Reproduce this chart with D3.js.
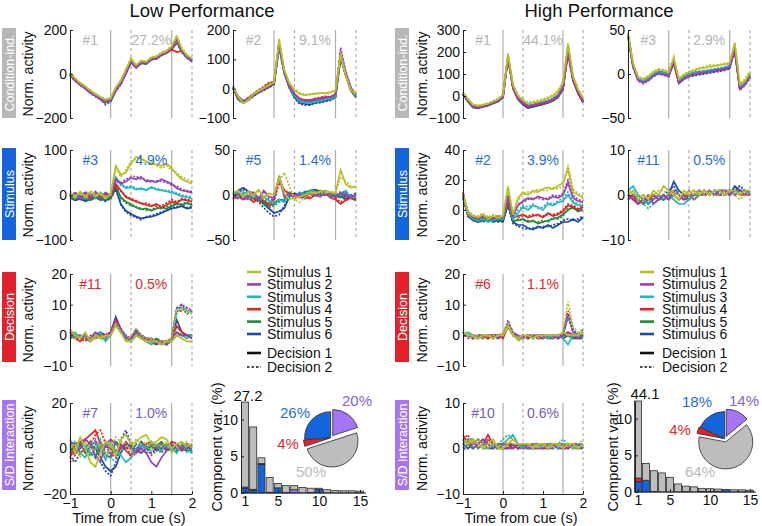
<!DOCTYPE html>
<html lang="en">
<head>
<meta charset="UTF-8">
<title>Low / High Performance components</title>
<script src="https://cdn.jsdelivr.net/npm/d3@7"></script>
<style>
  body { margin: 0; background: #fff; }
  svg text { font-family: "Liberation Sans", Arial, Helvetica, sans-serif; }
</style>
</head>
<body>
<svg id="mainsvg" width="762" height="526"></svg>
<script>
// time axis (s from cue)
const times = [-1,-0.875,-0.75,-0.625,-0.5,-0.375,-0.25,-0.125,0,0.125,0.25,0.375,0.5,0.625,0.75,0.875,1,1.125,1.25,1.375,1.5,1.625,1.75,1.875,2];
const stimNames = ['Stimulus 1','Stimulus 2','Stimulus 3','Stimulus 4','Stimulus 5','Stimulus 6'];
const stimColors = ['#b9bf25','#9a40b6','#22b7bc','#e3241d','#1f8a3c','#1c4aa8'];
const decNames = ['Decision 1','Decision 2'];

// ---- Low performance traces (stim 1..6), decision 1 solid / decision 2 dashed
const lowCond1_dec1 = [
  [5,-20,-40,-55,-75,-90,-105,-115,-110,-60,-30,20,70,40,60,55,75,80,95,105,125,170,115,85,70],
  [-5,-30,-50,-65,-85,-100,-115,-125,-120,-75,-45,5,55,30,50,48,68,72,88,98,118,155,105,78,60],
  [0,-28,-42,-62,-78,-98,-108,-118,-112,-72,-38,8,58,38,58,52,72,78,92,102,122,150,108,76,62],
  [-2,-22,-48,-58,-82,-92,-112,-122,-118,-68,-42,12,62,32,52,50,66,74,86,96,110,100,105,82,66],
  [3,-26,-44,-64,-84,-96,-114,-130,-124,-76,-44,6,56,34,54,46,68,70,88,100,116,150,100,76,64],
  [-4,-24,-46,-60,-80,-94,-108,-126,-120,-74,-40,4,54,30,50,48,66,72,86,98,114,145,102,74,58]];
const lowCond1_dec2 = [
  [2,-18,-42,-58,-72,-92,-102,-118,-108,-62,-28,22,72,42,62,58,78,82,98,108,128,175,118,88,72],
  [-8,-32,-52,-68,-88,-104,-118,-135,-124,-78,-48,2,52,28,48,46,66,70,86,96,116,158,108,80,62],
  [-3,-26,-40,-60,-76,-96,-106,-116,-110,-70,-36,10,60,40,56,54,74,76,94,104,124,152,110,78,64],
  [-6,-24,-50,-60,-84,-94,-114,-124,-120,-70,-44,10,60,30,50,52,68,76,88,98,112,140,107,84,68],
  [4,-28,-46,-66,-86,-98,-116,-140,-126,-78,-46,4,54,32,52,44,66,68,86,98,114,148,98,74,62],
  [-6,-26,-48,-62,-82,-96,-110,-128,-122,-76,-42,2,52,28,48,46,64,70,84,96,112,142,100,72,56]];

const lowCond2_dec1 = [
  [8,-28,-50,-38,-18,-8,2,12,22,170,65,18,-5,-18,-22,-20,-18,-15,-15,-12,-5,115,45,-5,-18],
  [4,-32,-44,-34,-22,-12,-2,8,18,158,58,8,-20,-36,-40,-38,-36,-34,-30,-28,-20,125,55,2,-22],
  [6,-30,-40,-36,-20,-10,0,10,20,150,55,6,-24,-42,-46,-48,-44,-42,-36,-34,-24,118,48,-2,-24],
  [2,-26,-42,-32,-18,-6,4,18,22,155,60,10,-18,-34,-38,-40,-34,-32,-28,-30,-18,112,50,0,-20],
  [5,-34,-46,-36,-22,-10,-2,8,18,148,56,6,-26,-40,-44,-46,-40,-40,-36,-34,-26,108,46,-4,-26],
  [3,-36,-48,-38,-24,-12,-4,6,16,145,54,4,-30,-48,-52,-54,-48,-46,-42,-38,-28,105,44,-6,-28]];
const lowCond2_dec2 = [
  [10,-25,-52,-36,-16,-6,4,16,24,165,62,20,0,-15,-20,-18,-16,-14,-18,-15,-8,125,48,-2,-16],
  [2,-34,-46,-32,-20,-14,-4,6,16,150,56,6,-18,-34,-42,-40,-38,-36,-32,-30,-22,140,60,4,-20],
  [4,-28,-42,-38,-22,-12,-2,12,18,145,52,4,-26,-44,-48,-50,-46,-44,-38,-36,-26,125,52,0,-22],
  [0,-24,-44,-30,-16,-4,8,20,24,150,58,8,-20,-36,-40,-42,-36,-30,-26,-28,-20,118,52,2,-18],
  [6,-36,-48,-38,-24,-12,-4,6,16,142,54,4,-28,-42,-46,-48,-42,-42,-38,-36,-28,112,48,-6,-28],
  [2,-38,-50,-40,-26,-14,-6,4,14,140,52,2,-32,-52,-56,-56,-50,-48,-44,-40,-30,110,46,-8,-30]];

const lowStim3_dec1 = [
  [5,-5,8,-3,6,-2,4,-5,0,65,45,50,70,85,80,75,70,68,65,70,60,45,35,30,25],
  [-5,3,-8,5,-4,8,-3,2,-2,35,25,30,38,35,40,30,32,28,35,30,25,15,10,8,5],
  [2,-8,4,-6,3,-5,6,-3,3,40,25,15,18,12,15,10,18,12,10,8,5,2,-3,-5,-8],
  [-3,4,-6,2,-8,3,-5,6,-4,25,10,-5,-10,-15,-18,-22,-25,-20,-28,-22,-15,-18,-10,-12,-15],
  [0,-10,-4,-8,-12,-6,-10,-4,-8,20,-5,-15,-20,-28,-32,-30,-35,-30,-28,-30,-25,-20,-22,-18,-22],
  [-6,-12,-8,-14,-10,-4,-8,-12,-6,15,-20,-35,-42,-48,-52,-50,-48,-45,-40,-35,-30,-28,-25,-30,-28]];
const lowStim3_dec2 = [
  [8,-2,5,-6,10,2,0,-8,3,60,40,55,75,80,85,70,75,65,60,65,55,50,40,35,30],
  [-2,6,-5,8,-2,5,-6,4,0,30,28,35,40,42,35,35,28,32,30,28,22,20,12,10,8],
  [4,-5,6,-3,5,-8,3,-6,5,35,20,18,20,15,12,14,15,15,12,10,8,5,0,-2,-5],
  [-5,6,-4,4,-6,5,-8,3,-2,20,8,-2,-8,-12,-20,-18,-22,-25,-24,-18,-10,-15,-8,-10,-12],
  [2,-8,-6,-10,-8,-4,-12,-6,-5,18,-8,-18,-24,-26,-30,-34,-32,-28,-30,-26,-22,-18,-20,-16,-20],
  [-4,-10,-10,-12,-8,-6,-10,-14,-8,12,-22,-38,-45,-50,-55,-48,-46,-42,-38,-32,-28,-26,-22,-28,-25]];

const lowStim5_dec1 = [
  [2,5,-2,4,0,6,-3,2,0,20,2,-5,-3,-2,0,3,2,4,5,3,2,28,12,8,10],
  [-3,2,-5,-2,3,-4,5,-2,-3,20,-2,2,-4,0,-2,2,-1,1,0,2,-3,2,-1,-2,0],
  [0,-2,3,-4,2,-3,-2,-6,-8,-5,-8,2,-2,3,0,5,4,-2,3,-1,2,0,5,-3,-2],
  [-4,-2,-5,-3,-8,-4,-6,-10,-5,18,5,2,0,-3,-2,-4,0,-2,2,-3,-5,-10,-6,-3,-5],
  [3,-3,0,-2,-4,-6,-8,-12,-10,-5,-6,3,0,-2,4,2,0,5,3,-2,0,-3,2,-4,-6],
  [0,5,8,4,2,-5,-10,-15,-20,-18,-15,-2,2,0,3,5,6,4,2,0,2,-2,-4,-2,0]];
const lowStim5_dec2 = [
  [4,3,0,2,-2,4,-1,0,2,15,25,10,-5,-8,-3,0,2,3,2,4,3,20,15,10,8],
  [-5,4,-3,0,2,-6,3,-4,-5,22,0,0,-2,2,-4,0,1,-1,2,0,-2,4,2,-2,-1],
  [2,0,5,-2,0,-5,-4,-8,-10,-8,-6,0,-4,1,2,3,2,0,1,1,0,2,3,-1,-4],
  [-2,-4,-3,-5,-6,-2,-8,-12,-8,14,6,0,-2,-1,-4,-2,2,0,0,-1,-3,-8,-4,-2,-6],
  [1,-1,2,-4,-2,-8,-10,-14,-12,-8,-4,1,-2,0,2,4,2,3,1,0,-2,-2,0,-2,-4],
  [2,3,6,2,0,-8,-14,-20,-24,-22,-12,0,0,2,1,3,4,2,0,2,0,0,-2,0,2]];

const lowDec11_dec1 = [
  [2,0,-1,1,-2,0,-1,0,0,3,1,-2,-2,0,-1,-2,-2,-2,-3,-2,-2,0,-1,-2,-2],
  [1,-1,0,-1,-1,1,0,-1,1,4,2,-1,-1,1,0,-1,-1,-2,-2,-3,-1,1,0,0,-1],
  [0,1,-1,0,-2,0,1,-2,0,4,2,0,-2,1,-1,-2,-3,-2,-2,-3,-2,0,0,-1,0],
  [1,-1,-2,0,-1,-1,0,0,1,5,2,-1,-1,1,0,-1,-2,-2,-3,-2,-1,3,1,0,-1],
  [-1,0,0,-1,-1,0,-1,-1,0,4,1,-1,-2,0,-1,-1,-2,-1,-2,-2,-1,1,0,0,0],
  [0,0,-1,-1,-2,0,1,0,1,6,2,-1,-1,2,0,-1,-2,-3,-2,-3,-1,5,1,0,0]];
const lowDec11_dec2 = [
  [1,-1,0,-1,-1,-1,0,-1,0,4,1,-2,0,2,0,-1,-1,-2,-2,-2,-1,8,9,8,7],
  [2,0,-1,0,-2,0,-1,0,1,5,2,-1,-1,1,-1,-2,-2,-3,-2,-3,-1,9,10,9,8],
  [0,-1,0,-1,-1,1,0,-1,0,4,1,-1,-2,0,0,-1,-2,-2,-3,-2,-1,7,9,8,8],
  [1,0,-1,-2,0,-1,0,0,1,5,2,0,-1,1,-1,-1,-2,-2,-2,-2,-1,8,8,9,8],
  [0,-1,-1,0,-1,0,-1,-1,0,4,1,-1,-2,1,0,-1,-2,-2,-2,-3,-1,9,9,7,8],
  [-1,0,0,-1,-1,0,1,-1,1,5,1,-1,-1,1,-1,-2,-2,-3,-2,-3,-1,8,10,8,7]];

const lowInt7_dec1 = [
  [2,-2,5,0,-6,-8,-2,3,2,-3,4,6,2,3,5,6,2,3,5,4,0,2,3,1,2],
  [-3,-2,0,4,2,-3,-6,2,4,2,0,3,0,-2,0,-2,-6,-8,-4,-1,2,0,1,2,0],
  [2,0,-2,-4,1,3,0,-5,2,-1,-3,-6,-4,0,2,0,3,1,-1,2,0,-2,2,0,-2],
  [-4,2,3,4,6,8,2,1,0,-2,2,-1,-3,0,1,2,3,0,2,-1,3,2,-1,2,1],
  [3,2,-2,0,3,-4,2,-3,-4,3,1,0,2,-1,-2,0,2,1,3,0,-1,2,0,-1,0],
  [0,-2,2,-2,1,0,-4,-8,-10,-8,-2,2,1,-1,3,0,1,-1,0,2,1,-1,0,1,-1]];
const lowInt7_dec2 = [
  [0,2,-4,3,-1,0,2,-3,0,5,3,2,-1,4,2,3,0,2,1,3,-2,0,2,3,0],
  [4,-1,2,-2,0,4,-2,3,-4,-1,2,0,3,1,-2,0,-3,-1,2,0,1,2,-1,0,2],
  [-2,3,0,2,-3,0,4,-2,-4,-6,-1,0,2,-2,1,0,-1,2,0,1,-1,0,2,-2,0],
  [-6,-3,0,4,2,6,8,2,-2,-4,0,2,-4,-2,1,0,2,1,-1,2,0,1,2,-1,2],
  [1,-2,3,-1,-3,2,-2,0,3,-2,0,3,-1,2,0,-2,1,0,-2,1,2,-1,1,0,-2],
  [-4,-6,-2,0,-2,-4,-6,-10,-12,-6,4,8,2,-1,0,1,-2,0,1,-1,0,2,-1,0,1]];

// ---- High performance traces
const highCond1_dec1 = [
  [15,-15,-40,-45,-40,-35,-25,-15,5,190,50,0,-20,-35,-30,-25,-20,-10,0,20,60,235,90,30,-10],
  [10,-22,-48,-52,-46,-42,-32,-22,-2,178,38,-12,-32,-46,-42,-36,-32,-26,-16,0,38,200,78,18,-22],
  [8,-18,-44,-50,-44,-38,-28,-20,0,182,42,-8,-28,-44,-40,-34,-28,-22,-12,5,45,225,82,22,-20],
  [6,-20,-46,-54,-48,-40,-30,-24,-4,175,36,-14,-34,-50,-44,-38,-34,-28,-18,-2,34,190,72,14,-28],
  [9,-24,-50,-52,-48,-42,-34,-22,-2,176,38,-12,-36,-50,-46,-40,-34,-30,-20,-4,32,215,76,16,-26],
  [7,-26,-52,-56,-50,-44,-34,-26,-6,172,34,-16,-40,-55,-50,-44,-38,-32,-22,-6,30,205,70,12,-30]];
const highCond1_dec2 = [
  [18,-12,-38,-42,-38,-32,-22,-12,8,195,55,5,-15,-30,-25,-20,-15,-5,5,25,70,240,95,35,-5],
  [12,-20,-46,-50,-44,-40,-30,-20,0,182,40,-10,-30,-44,-40,-34,-30,-24,-14,2,40,210,80,20,-20],
  [10,-16,-42,-48,-42,-36,-26,-18,2,185,44,-6,-26,-42,-38,-32,-26,-20,-10,8,48,230,85,24,-18],
  [8,-18,-44,-52,-46,-38,-28,-22,-2,178,38,-12,-32,-48,-42,-36,-32,-26,-16,0,36,195,74,16,-26],
  [10,-22,-48,-50,-46,-40,-32,-20,0,178,40,-10,-34,-48,-44,-38,-32,-28,-18,-2,34,218,78,18,-24],
  [8,-24,-50,-54,-48,-42,-32,-24,-4,175,36,-14,-38,-52,-48,-42,-36,-30,-20,-4,32,208,72,14,-28]];

const highCond3_dec1 = [
  [46,12,-4,-6,-3,2,5,4,2,18,-6,-1,2,4,6,7,8,9,10,11,12,35,-12,-8,2],
  [44,8,-7,-10,-7,-2,1,0,-2,13,-10,-5,-2,0,1,2,3,4,5,6,8,28,-17,-12,-3],
  [45,10,-5,-9,-6,0,2,1,-1,14,-9,-4,-1,1,2,3,4,5,6,7,9,30,-15,-10,-1],
  [44,9,-6,-9,-6,-1,2,1,-1,14,-9,-4,-1,1,2,2,3,4,5,6,8,27,-16,-11,-2],
  [45,10,-5,-8,-5,0,3,2,0,15,-8,-3,0,1,2,3,4,5,6,7,9,29,-15,-10,-1],
  [44,9,-6,-9,-6,-1,1,0,-2,13,-10,-5,-2,-1,0,1,2,3,4,5,7,27,-17,-12,-3]];
const highCond3_dec2 = [
  [47,13,-3,-5,-2,3,6,5,3,20,-5,0,3,5,7,8,10,10,11,12,13,36,-10,-6,3],
  [43,7,-8,-11,-8,-3,0,-1,-3,12,-11,-6,-3,-1,0,1,2,3,4,5,7,26,-18,-13,-4],
  [46,11,-4,-8,-5,1,3,2,0,16,-8,-3,0,2,3,4,5,6,7,8,10,31,-14,-9,0],
  [45,10,-5,-8,-5,0,3,2,0,15,-8,-3,0,2,3,3,4,5,6,7,9,28,-15,-10,-1],
  [44,9,-6,-9,-6,-1,2,1,-1,14,-9,-4,-1,0,1,2,3,4,5,6,8,28,-16,-11,-2],
  [43,8,-7,-10,-7,-2,0,-1,-3,12,-11,-6,-3,-2,-1,0,1,2,3,4,6,26,-18,-13,-4]];

const highStim2_dec1 = [
  [10,-2,-4,-5,-3,-6,-4,-5,-4,15,-3,8,12,10,13,12,14,15,14,16,18,27,12,10,8],
  [10,-1,-5,-6,-4,-5,-6,-4,-5,8,-4,3,6,8,7,9,8,7,9,8,10,18,8,6,5],
  [9,-3,-6,-7,-6,-8,-7,-5,-6,10,-6,-2,2,0,3,2,0,4,3,5,6,10,5,3,3],
  [12,-4,-5,-7,-5,-6,-5,-6,-4,6,-5,-4,-3,-5,-4,-3,-5,-2,-4,-3,-1,3,2,0,2],
  [8,-3,-6,-8,-6,-7,-6,-7,-6,5,-7,-7,-6,-8,-7,-9,-8,-7,-6,-5,-3,0,2,-1,0],
  [9,-4,-7,-8,-7,-6,-8,-7,-8,4,-8,-10,-10,-12,-13,-11,-12,-10,-12,-10,-8,-8,-6,-8,-5]];
const highStim2_dec2 = [
  [11,-1,-3,-4,-2,-5,-3,-4,-3,16,-2,6,10,12,11,14,13,13,15,14,16,30,14,11,9],
  [9,-2,-4,-5,-5,-4,-5,-5,-4,9,-3,4,5,7,8,8,7,8,10,9,11,20,10,7,6],
  [10,-2,-5,-6,-5,-7,-6,-6,-5,9,-5,0,3,2,4,1,2,5,4,6,8,12,6,4,4],
  [11,-3,-4,-6,-6,-5,-6,-5,-5,5,-4,-5,-4,-4,-3,-4,-4,-3,-3,-2,0,4,3,1,3],
  [9,-4,-5,-7,-7,-6,-7,-6,-7,4,-8,-6,-7,-7,-8,-8,-7,-8,-5,-6,-4,1,1,0,1],
  [8,-5,-6,-7,-8,-7,-7,-8,-7,3,-9,-11,-12,-13,-12,-12,-11,-11,-10,-9,-7,-6,-7,-6,-4]];

const highStim11_dec1 = [
  [0,1,-1,0,-1,1,0,2,1,0,-1,1,0,1,0,1,0,1,1,0,1,1,0,1,1],
  [-1,0,-2,-1,0,-2,-1,0,-1,1,0,-1,0,0,1,0,1,0,1,1,0,1,1,0,0],
  [1,2,0,-1,-2,-1,0,-1,0,-1,-2,-2,-1,0,0,1,0,1,0,1,1,0,1,1,0],
  [0,-1,-2,-1,-1,0,-1,0,-1,0,-1,0,0,-1,0,0,1,0,0,1,0,1,0,0,1],
  [-1,0,-1,-2,-1,0,-1,-1,0,1,0,-1,0,0,0,1,0,1,1,0,1,0,1,0,1],
  [0,-1,0,-1,-2,-1,0,-1,0,3,1,0,-1,0,1,0,1,0,1,1,0,2,1,1,0]];
const highStim11_dec2 = [
  [1,0,0,-1,0,0,1,1,0,1,0,0,1,0,1,0,1,0,0,1,1,0,-1,0,1],
  [0,-1,-1,0,-1,-1,0,-1,0,0,-1,0,1,0,0,1,0,1,0,1,1,0,1,1,0],
  [0,1,-1,-2,-3,-2,-1,-1,-1,0,-1,-1,0,-1,0,0,1,0,1,0,0,1,0,1,0],
  [1,0,-1,-2,0,-1,0,-1,0,1,0,-1,-1,0,1,0,0,1,0,0,1,0,1,0,1],
  [0,-1,0,-1,-2,0,-1,0,-1,0,1,0,-1,0,0,0,1,0,1,1,0,1,0,1,0],
  [-1,0,-1,-2,-1,0,-1,0,1,2,0,-1,0,1,0,1,0,1,0,0,1,1,2,1,0]];

const highDec6_dec1 = [
  [1,0,0,-1,0,0,-1,0,0,3,0,-1,0,0,-1,0,0,0,0,0,1,0,0,0,1],
  [1,0,-1,0,-1,0,0,-1,0,4,1,0,-1,0,0,-1,0,0,0,-1,0,1,0,-1,0],
  [0,1,0,-1,0,0,-1,0,0,3,0,-1,-1,0,-1,0,0,-1,0,0,-1,-3,0,0,-1],
  [1,0,-1,0,0,-1,0,0,-1,3,1,-1,0,-1,0,-1,-1,0,-1,0,0,1,0,-1,0],
  [0,0,-1,0,-1,0,0,-1,0,3,0,-1,-1,0,-1,0,0,-1,0,-1,0,0,-1,0,0],
  [1,0,0,-1,0,-1,0,0,0,3,0,-1,0,-1,0,-1,0,-1,-1,0,-1,0,-1,-1,-1]];
const highDec6_dec2 = [
  [2,0,-1,0,-1,0,0,0,1,4,1,-2,-1,0,0,-1,0,0,0,0,1,11,3,1,2],
  [1,-1,0,0,-1,0,-1,0,0,5,1,-1,0,-1,0,0,-1,0,0,-1,0,7,2,0,1],
  [1,0,-1,-1,0,0,0,-1,0,3,0,-1,-1,0,0,0,-1,0,-1,0,0,6,2,0,1],
  [0,0,0,-1,0,-1,0,0,0,3,0,-1,0,0,-1,0,0,-1,0,0,0,8,1,0,1],
  [1,0,-1,0,0,0,-1,0,0,4,1,-1,-1,0,0,-1,0,0,0,0,1,7,2,0,2],
  [0,0,-1,0,-1,0,0,-1,0,3,0,-1,0,-1,0,0,-1,0,0,-1,0,6,1,0,0]];

const highInt10_dec1 = [
  [2,1,2,1,0,1,2,0,0,1,2,1,1,1,0,1,1,0,1,1,0,1,1,0,1],
  [1,2,0,1,2,1,0,1,1,0,0,1,1,0,1,0,0,1,0,1,1,0,1,1,0],
  [1,2,2,1,0,0,1,0,1,2,3,1,0,1,0,1,0,1,1,0,1,1,0,1,1],
  [3,1,1,2,1,3,1,0,0,1,0,1,0,0,1,1,0,0,1,1,0,1,0,1,1],
  [2,1,0,1,2,1,0,1,0,1,1,0,1,0,0,1,1,0,0,1,1,0,1,0,0],
  [1,0,1,2,1,0,0,1,0,0,1,0,1,0,0,0,1,0,1,0,0,1,0,1,0]];
const highInt10_dec2 = [
  [1,2,1,2,1,0,1,1,0,2,1,1,1,1,1,0,1,1,0,1,1,1,0,1,2],
  [2,1,2,0,1,2,1,0,0,1,1,0,0,1,0,1,1,0,1,0,0,1,1,0,1],
  [0,1,1,2,1,1,0,1,2,3,2,1,0,0,1,1,0,1,0,1,2,1,1,0,1],
  [2,3,1,1,0,2,1,1,0,0,1,0,1,1,0,0,1,1,0,1,0,0,1,1,0],
  [1,1,2,0,1,0,1,0,1,0,0,1,0,1,1,0,0,1,1,0,1,1,0,0,1],
  [0,1,0,1,2,1,0,0,1,1,0,1,0,1,0,1,0,0,1,1,0,0,1,0,1]];

// ---- component variance bars (components 1..15), split by marginalization
const components = d3.range(1, 16);
const lowBarStim = [0.6,0.4,3.9,0.1,0.7,0.05,0,0,0,0.5,0,0,0,0,0];
const lowBarDec  = [0.2,0.1,0.1,0,0,0,0,0,0.05,0,0,0,0,0,0];
const lowBarInt  = [0,0,0,0,0,0,0.45,0,0,0,0,0,0,0,0];
const lowBarCond = [26.4,8.5,0.8,2.0,0.6,0.95,0.55,0.75,0.6,0.15,0.45,0.35,0.3,0.3,0.25];
const highBarStim = [1.4,1.6,0,0,0,0,0,0,0.1,0.05,0,0.35,0,0,0];
const highBarDec  = [0.5,0,0.05,0,0,0,0,0,0,0,0,0,0,0,0];
const highBarInt  = [0,0,0,0,0,0,0.05,0,0,0,0.1,0,0,0,0];
const highBarCond = [42.2,2.3,2.85,2.6,2.0,1.1,0.75,0.7,0.4,0.4,0.3,0,0.3,0.3,0.25];
const lowTotal = '27.2', highTotal = '44.1';

// pie: interaction, condition-ind., decision, stimulus
const pieNames = ['S/D', 'Condition-ind.', 'Decision', 'Stimulus'];
const lowPie = [20, 50, 4, 26];
const highPie = [14, 64, 4, 18];

const rowNames = ['Condition-ind.', 'Stimulus', 'Decision', 'S/D Interaction'];

//Layout
const mainsvg = d3.select('#mainsvg');
const rowY = [[30, 118], [150, 240], [274, 366], [403, 494]];
const rowBox = [[28, 118], [148, 240], [272, 362], [400, 490]];
const boxFill = ['#b7b7b7', '#1465dc', '#e2222b', '#a575f4'];
const textCol = ['#b3b3b3', '#1f6fd6', '#e02a2a', '#7a5cb8'];
const groups = [
    {col: [[70, 192], [233, 356]], box: 2, ylab: 28, title: 'Low Performance', tx: 202},
    {col: [[463, 583], [628, 750]], box: 395, ylab: 422, title: 'High Performance', tx: 599}
];

const panels = [
    {dec1: lowCond1_dec1, dec2: lowCond1_dec2, g: 0, c: 0, r: 0, dom: [-200, 200], ticks: [-200, 0, 200], num: '#1', pct: '27.2%'},
    {dec1: lowCond2_dec1, dec2: lowCond2_dec2, g: 0, c: 1, r: 0, dom: [-100, 200], ticks: [-100, 0, 100, 200], num: '#2', pct: '9.1%'},
    {dec1: lowStim3_dec1, dec2: lowStim3_dec2, g: 0, c: 0, r: 1, dom: [-100, 100], ticks: [-100, 0, 100], num: '#3', pct: '4.9%'},
    {dec1: lowStim5_dec1, dec2: lowStim5_dec2, g: 0, c: 1, r: 1, dom: [-50, 50], ticks: [-50, 0, 50], num: '#5', pct: '1.4%'},
    {dec1: lowDec11_dec1, dec2: lowDec11_dec2, g: 0, c: 0, r: 2, dom: [-10, 20], ticks: [-10, 0, 10, 20], num: '#11', pct: '0.5%'},
    {dec1: lowInt7_dec1, dec2: lowInt7_dec2, g: 0, c: 0, r: 3, dom: [-20, 20], ticks: [-20, 0, 20], num: '#7', pct: '1.0%'},
    {dec1: highCond1_dec1, dec2: highCond1_dec2, g: 1, c: 0, r: 0, dom: [-100, 300], ticks: [-100, 0, 100, 200, 300], num: '#1', pct: '44.1%'},
    {dec1: highCond3_dec1, dec2: highCond3_dec2, g: 1, c: 1, r: 0, dom: [-50, 50], ticks: [-50, 0, 50], num: '#3', pct: '2.9%'},
    {dec1: highStim2_dec1, dec2: highStim2_dec2, g: 1, c: 0, r: 1, dom: [-20, 40], ticks: [-20, 0, 20, 40], num: '#2', pct: '3.9%'},
    {dec1: highStim11_dec1, dec2: highStim11_dec2, g: 1, c: 1, r: 1, dom: [-10, 10], ticks: [-10, 0, 10], num: '#11', pct: '0.5%'},
    {dec1: highDec6_dec1, dec2: highDec6_dec2, g: 1, c: 0, r: 2, dom: [-10, 20], ticks: [-10, 0, 10, 20], num: '#6', pct: '1.1%'},
    {dec1: highInt10_dec1, dec2: highInt10_dec2, g: 1, c: 0, r: 3, dom: [-10, 10], ticks: [-10, 0, 10], num: '#10', pct: '0.6%'}
];

const styleAxis = sel => {
    sel.selectAll('path').attr('stroke', '#222').attr('stroke-width', 1);
    sel.selectAll('line').attr('stroke', '#222');
    sel.selectAll('text').attr('font-size', 14).attr('fill', '#111');
};

//Titles, row labels
groups.forEach(gr => {
    mainsvg.append('text').attr('x', gr.tx).attr('y', 17)
        .attr('text-anchor', 'middle').attr('font-size', 18.5).attr('fill', '#111')
        .text(gr.title);
    rowNames.forEach((name, r) => {
        const [b0, b1] = rowBox[r];
        mainsvg.append('rect').attr('x', gr.box).attr('y', b0)
            .attr('width', 14).attr('height', b1 - b0).attr('fill', boxFill[r]);
        mainsvg.append('text')
            .attr('transform', `translate(${gr.box + 7.5}, ${(b0 + b1) / 2}) rotate(-90)`)
            .attr('text-anchor', 'middle').attr('dominant-baseline', 'central')
            .attr('font-size', 12.5).attr('fill', '#fff').text(name);
        mainsvg.append('text')
            .attr('transform', `translate(${gr.ylab}, ${(rowY[r][0] + rowY[r][1]) / 2}) rotate(-90)`)
            .attr('text-anchor', 'middle').attr('dominant-baseline', 'central')
            .attr('font-size', 14).attr('fill', '#111').text('Norm. activity');
    });
});

//Trace panels
panels.forEach(p => {
    const [x0, x1] = groups[p.g].col[p.c];
    const [yT, yB] = rowY[p.r];
    const x = d3.scaleLinear().domain([-1, 2]).range([x0, x1]);
    const y = d3.scaleLinear().domain(p.dom).range([yB, yT]);
    const g = mainsvg.append('g');

    [0, 0.5, 1.5, 2].forEach(t => {
        g.append('line').attr('x1', x(t)).attr('x2', x(t)).attr('y1', yT).attr('y2', yB)
            .attr('stroke', '#adadad').attr('stroke-width', 1.2)
            .attr('stroke-dasharray', (t === 0.5 || t === 2) ? '3,3' : null);
    });

    const line = d3.line()
        .defined((d, i) => i < times.length)
        .x((d, i) => x(times[i])).y(d => y(d));
    for (let s = 5; s >= 0; s--) {
        g.append('path').attr('d', line(p.dec2[s])).attr('fill', 'none')
            .attr('stroke', stimColors[s]).attr('stroke-width', 1.7)
            .attr('stroke-dasharray', '2,1.6');
        g.append('path').attr('d', line(p.dec1[s])).attr('fill', 'none')
            .attr('stroke', stimColors[s]).attr('stroke-width', 1.7);
    }

    g.append('g').attr('transform', `translate(${x0},0)`)
        .call(d3.axisLeft(y).tickValues(p.ticks).tickSize(-3).tickSizeOuter(0).tickPadding(3))
        .call(styleAxis);
    if (p.r === 3) {
        g.append('g').attr('transform', `translate(0,${yB})`)
            .call(d3.axisBottom(x).tickValues([-1, 0, 1, 2]).tickFormat(d3.format('d'))
                .tickSize(-3).tickSizeOuter(0).tickPadding(4))
            .call(styleAxis);
        g.append('text').attr('x', (x0 + x1) / 2 - 2).attr('y', yB + 29)
            .attr('text-anchor', 'middle').attr('font-size', 14.5).attr('fill', '#111')
            .text('Time from cue (s)');
    }

    g.append('text').attr('x', x(-0.5)).attr('y', yT + 15).attr('text-anchor', 'middle')
        .attr('font-size', 14).attr('fill', textCol[p.r]).text(p.num);
    g.append('text').attr('x', x(1.0)).attr('y', yT + 15).attr('text-anchor', 'middle')
        .attr('font-size', 14).attr('fill', textCol[p.r]).text(p.pct);
});

//Legends
[[247, 267], [640, 662]].forEach(([lx, tx]) => {
    const lg = mainsvg.append('g');
    const ly = [272, 284.4, 296.8, 309.2, 321.6, 334];
    stimNames.forEach((n, i) => {
        lg.append('line').attr('x1', lx).attr('x2', lx + 14).attr('y1', ly[i]).attr('y2', ly[i])
            .attr('stroke', stimColors[i]).attr('stroke-width', 2.6);
        lg.append('text').attr('x', tx).attr('y', ly[i]).attr('dominant-baseline', 'central')
            .attr('font-size', 14).attr('fill', '#111').text(n);
    });
    decNames.forEach((n, i) => {
        const yy = 353 + i * 14;
        lg.append('line').attr('x1', lx).attr('x2', lx + 14).attr('y1', yy).attr('y2', yy)
            .attr('stroke', '#111').attr('stroke-width', i === 0 ? 2.6 : 1.3)
            .attr('stroke-dasharray', i === 0 ? null : '2.5,2');
        lg.append('text').attr('x', tx).attr('y', yy).attr('dominant-baseline', 'central')
            .attr('font-size', 14).attr('fill', '#111').text(n);
    });
});

//Variance bars + pies
const barSets = [
    {stim: lowBarStim, dec: lowBarDec, int: lowBarInt, cond: lowBarCond, total: lowTotal,
     ax: 241, xr: [245, 360], xEnd: 366, yr: [493, 402], lab: 217, totX: 248, totY: 401,
     pie: lowPie, pc: [331, 438], pr: 26,
     pl: [[357, 400], [311, 471], [288, 443], [295, 412]]},
    {stim: highBarStim, dec: highBarDec, int: highBarInt, cond: highBarCond, total: highTotal,
     ax: 635, xr: [638, 750], xEnd: 756, yr: [492, 401], lab: 613, totX: 645, totY: 399,
     pie: highPie, pc: [725, 439], pr: 27,
     pl: [[744, 400], [700, 471], [680, 429], [697, 401]]}
];
const barKeys = ['stim', 'dec', 'int', 'cond'];
const barFill = {stim: '#1465dc', dec: '#e2222b', int: '#a575f4', cond: '#bdbdbd'};
const pieFill = ['#a575f4', '#bdbdbd', '#e2222b', '#1465dc'];
const pieText = ['#8565cc', '#bababa', '#e02a2a', '#1f6fd6'];
const pieOffset = [3, 3, 1.5, 0.5];

barSets.forEach(b => {
    const g = mainsvg.append('g');
    const yMax = 12.4;
    const x = d3.scaleLinear().domain([1, 15]).range(b.xr);
    const y = d3.scaleLinear().domain([0, yMax]).range(b.yr);
    const table = components.map((c, i) => ({comp: c, stim: b.stim[i], dec: b.dec[i], int: b.int[i], cond: b.cond[i]}));
    const stacked = d3.stack().keys(barKeys)(table);
    stacked.forEach(layer => {
        g.selectAll(null).data(layer.filter(d => d[1] > d[0] && d[0] < yMax)).join('rect')
            .attr('x', d => x(d.data.comp) - 3.5)
            .attr('width', 7)
            .attr('y', d => y(Math.min(d[1], yMax)))
            .attr('height', d => y(d[0]) - y(Math.min(d[1], yMax)))
            .attr('fill', barFill[layer.key])
            .attr('stroke', '#2b2b2b').attr('stroke-width', 0.8);
    });
    g.append('g').attr('transform', `translate(${b.ax},0)`)
        .call(d3.axisLeft(y).tickValues([0, 5, 10]).tickSize(-3).tickSizeOuter(0).tickPadding(3))
        .call(styleAxis);
    const xa = g.append('g').attr('transform', `translate(0,${b.yr[0]})`)
        .call(d3.axisBottom(x).tickValues([1, 5, 10, 15]).tickSize(-3).tickSizeOuter(0).tickPadding(3))
        .call(styleAxis);
    xa.select('.domain').remove();
    g.append('line').attr('x1', b.ax).attr('x2', b.xEnd).attr('y1', b.yr[0]).attr('y2', b.yr[0])
        .attr('stroke', '#222');
    g.append('text').attr('x', b.totX).attr('y', b.totY).attr('text-anchor', 'middle')
        .attr('font-size', 15).attr('fill', '#111').text(b.total);
    g.append('text')
        .attr('transform', `translate(${b.lab}, 447) rotate(-90)`)
        .attr('text-anchor', 'middle').attr('dominant-baseline', 'central')
        .attr('font-size', 14.5).attr('fill', '#111').text('Component var. (%)');

    const arcs = d3.pie().sort(null)(b.pie);
    const arc = d3.arc().innerRadius(0).outerRadius(b.pr);
    const pg = g.append('g').attr('transform', `translate(${b.pc[0]},${b.pc[1]})`);
    arcs.forEach((a, i) => {
        const mid = (a.startAngle + a.endAngle) / 2;
        pg.append('path').attr('d', arc(a))
            .attr('transform', `translate(${Math.sin(mid) * pieOffset[i]},${-Math.cos(mid) * pieOffset[i]})`)
            .attr('fill', pieFill[i]).attr('stroke', '#2b2b2b').attr('stroke-width', 0.8);
        g.append('text').attr('x', b.pl[i][0]).attr('y', b.pl[i][1])
            .attr('text-anchor', 'middle').attr('dominant-baseline', 'central')
            .attr('font-size', 15).attr('fill', pieText[i]).text(b.pie[i] + '%');
    });
});
</script>
</body>
</html>
